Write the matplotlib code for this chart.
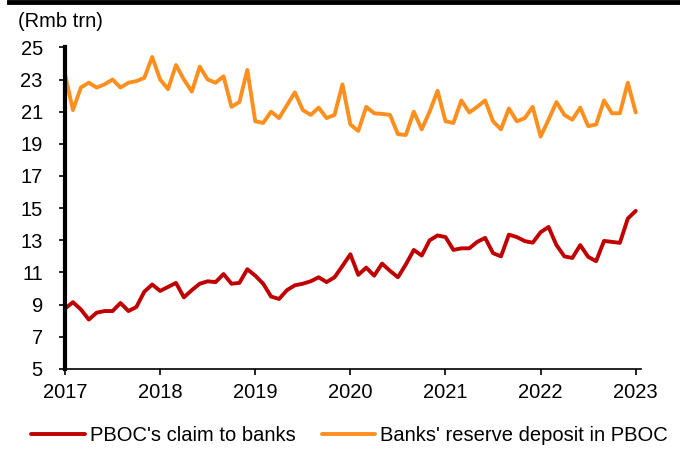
import matplotlib
matplotlib.use("Agg")
import matplotlib.pyplot as plt
from matplotlib.lines import Line2D

plt.rcParams['font.family'] = ['Liberation Sans', 'DejaVu Sans']

# monthly, Jan 2017 .. Jan 2023 (Rmb trn)
claim = [8.75, 9.15, 8.7, 8.07, 8.5, 8.6, 8.6, 9.1, 8.6, 8.85,
         9.8, 10.25, 9.85, 10.1, 10.35, 9.45, 9.9, 10.3, 10.45, 10.4,
         10.9, 10.3, 10.35, 11.2, 10.8, 10.3, 9.5, 9.35, 9.9, 10.2,
         10.3, 10.45, 10.7, 10.4, 10.7, 11.4, 12.13, 10.85, 11.3, 10.8,
         11.55, 11.1, 10.7, 11.5, 12.4, 12.05, 13.0, 13.3, 13.2, 12.4,
         12.5, 12.5, 12.9, 13.15, 12.2, 12.0, 13.35, 13.2, 12.95, 12.85,
         13.5, 13.83, 12.7, 12.0, 11.9, 12.7, 11.97, 11.7, 12.96, 12.9,
         12.84, 14.35, 14.83]
reserve = [23.3, 21.1, 22.5, 22.8, 22.5, 22.7, 23.0, 22.5, 22.8, 22.9,
           23.1, 24.4, 23.0, 22.4, 23.9, 23.0, 22.25, 23.8, 23.0, 22.8,
           23.2, 21.3, 21.6, 23.6, 20.4, 20.3, 21.0, 20.6, 21.4, 22.2,
           21.1, 20.8, 21.25, 20.6, 20.8, 22.7, 20.2, 19.8, 21.3, 20.9,
           20.86, 20.8, 19.6, 19.55, 21.0, 19.9, 21.0, 22.3, 20.4, 20.3,
           21.7, 20.95, 21.3, 21.7, 20.4, 19.9, 21.2, 20.4, 20.6, 21.3,
           19.45, 20.5, 21.6, 20.8, 20.5, 21.25, 20.1, 20.2, 21.7, 20.9,
           20.9, 22.8, 20.95]
years = [2017, 2018, 2019, 2020, 2021, 2022, 2023]
yticks = [5, 7, 9, 11, 13, 15, 17, 19, 21, 23, 25]

x = [2017 + i / 12 for i in range(len(claim))]

fig = plt.figure(figsize=(6.8, 4.51), dpi=100)
ax = fig.add_axes([0.0956, 0.182, 0.847, 0.713])

ax.plot(x, claim, color='#C00000', lw=2.8, solid_joinstyle='round',
        solid_capstyle='round', label="PBOC's claim to banks")
ax.plot(x, reserve, color='#FC8F1E', lw=2.8, solid_joinstyle='round',
        solid_capstyle='round', label="Banks' reserve deposit in PBOC")

ax.set_xlim(2017, 2023.055)
ax.set_ylim(5, 25)
ax.set_xticks(years)
ax.set_xticklabels([str(y) for y in years])
ax.set_yticks(yticks)

for s in ['top', 'right']:
    ax.spines[s].set_visible(False)
ax.spines['left'].set_linewidth(3.0)
ax.spines['bottom'].set_linewidth(1.2)
ax.tick_params(axis='both', direction='out', length=4, width=1.2,
               labelsize=14.5, colors='black')
ax.tick_params(axis='x', pad=6)
ax.tick_params(axis='y', pad=12)

fig.text(0.026, 0.952, "(Rmb trn)", fontsize=14.5, va='center', ha='left')

# black rule across the top
fig.add_artist(Line2D([0.013, 0.997], [0.996, 0.996], color='black', lw=3.5,
                      transform=fig.transFigure))

fig.legend(loc='center', bbox_to_anchor=(0.514, 0.034), ncol=2, frameon=False,
           fontsize=14.5, handlelength=2.65, handletextpad=0.25,
           columnspacing=1.3, borderpad=0, borderaxespad=0)

fig.savefig("out.png", dpi=100)
